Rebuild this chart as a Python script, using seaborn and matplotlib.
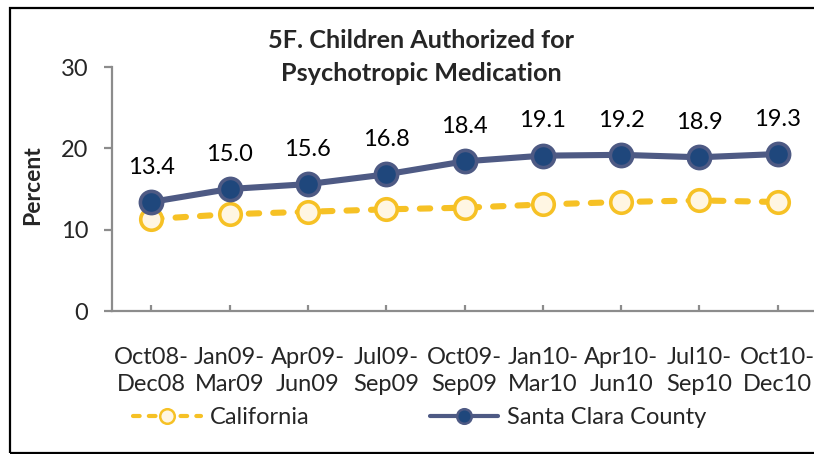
import matplotlib
matplotlib.use("Agg")
import matplotlib.pyplot as plt
from matplotlib.lines import Line2D
from matplotlib.patches import Rectangle
import pandas as pd
import seaborn as sns

periods = ["Oct08-\nDec08", "Jan09-\nMar09", "Apr09-\nJun09", "Jul09-\nSep09",
           "Oct09-\nSep09", "Jan10-\nMar10", "Apr10-\nJun10", "Jul10-\nSep10",
           "Oct10-\nDec10"]
california = [11.3, 11.9, 12.2, 12.5, 12.7, 13.1, 13.4, 13.6, 13.4]
santa_clara = [13.4, 15.0, 15.6, 16.8, 18.4, 19.1, 19.2, 18.9, 19.3]
y_ticks = [0, 10, 20, 30]

sns.set_theme(style="white")
plt.rcParams["font.family"] = ["Lato", "DejaVu Sans"]

W, H = 814, 454
fig = plt.figure(figsize=(W / 100, H / 100), dpi=100)

def px_box(x0, x1, y_top, y_bot):
    return [x0 / W, 1 - y_bot / H, (x1 - x0) / W, (y_bot - y_top) / H]

ax = fig.add_axes(px_box(112, 817, 67, 311))

df = pd.DataFrame({"pos": range(len(periods)),
                   "California": california,
                   "Santa Clara County": santa_clara})

GOLD = "#F6C125"
CREAM = "#FFF6E3"
SLATE = "#4E5A84"
NAVY = "#1F477C"
DASH = (0, (1.7, 2.3))

sns.lineplot(data=df, x="pos", y="California", ax=ax, color=GOLD, lw=4.4,
             linestyle=DASH, dash_capstyle="round",
             marker="o", markersize=15.5, markerfacecolor=CREAM,
             markeredgecolor=GOLD, markeredgewidth=2.6, zorder=3, clip_on=False)
sns.lineplot(data=df, x="pos", y="Santa Clara County", ax=ax, color=SLATE, lw=4.4,
             solid_capstyle="round", marker="o", markersize=16,
             markerfacecolor=NAVY, markeredgecolor=SLATE, markeredgewidth=2.6,
             zorder=4, clip_on=False)

for i, v in enumerate(santa_clara):
    ax.annotate(f"{v:.1f}", (i, v), xytext=(0, 25), textcoords="offset points",
                ha="center", va="center", fontsize=17, color="black")

ax.set_xlim(-0.5, len(periods) - 0.5)
ax.set_ylim(y_ticks[0], y_ticks[-1])
ax.set_yticks(y_ticks)
ax.set_yticklabels([str(t) for t in y_ticks])
ax.set_xticks(range(len(periods)))
ax.set_xticklabels(periods, linespacing=1.35)

AXC = "#8C8C8C"
for s in ["top", "right"]:
    ax.spines[s].set_visible(False)
for s in ["left", "bottom"]:
    ax.spines[s].set_color(AXC)
    ax.spines[s].set_linewidth(1.6)
    ax.spines[s].set_visible(True)

ax.tick_params(axis="y", direction="out", length=6, width=1.6, color=AXC,
               pad=11, labelsize=17, left=True)
ax.tick_params(axis="x", direction="in", length=4.5, width=1.6, color=AXC,
               pad=26, labelsize=17, bottom=True)
ax.set_xlabel("")
ax.set_ylabel("Percent", fontsize=16.5, fontweight="bold", va="center")
ax.yaxis.set_label_coords((33 - 112) / 705, (311 - 185) / 244)
ax.grid(False)

fig.text(421 / W, 1 - 57 / H, "5F. Children Authorized for\nPsychotropic Medication",
         ha="center", va="center", fontsize=18.2, fontweight="bold",
         linespacing=1.55)

handles = [
    Line2D([], [], color=GOLD, lw=3.0, linestyle=(0, (1.6, 2.2)),
           dash_capstyle="round", marker="o", markersize=10.5,
           markerfacecolor=CREAM, markeredgecolor=GOLD, markeredgewidth=1.8),
    Line2D([], [], color=SLATE, lw=3.0, solid_capstyle="round", marker="o",
           markersize=10.5, markerfacecolor=NAVY, markeredgecolor=SLATE,
           markeredgewidth=1.8),
]
fig.legend(handles, ["California", "Santa Clara County"], ncol=2,
           loc="center left", bbox_to_anchor=(133 / W, 1 - 418 / H),
           frameon=False, fontsize=17, handlelength=2.9, handletextpad=0.35,
           columnspacing=5.1, borderpad=0, borderaxespad=0)

fig.patches.append(Rectangle((10 / W, 1.5 / H), 1.2, (452 - 7) / H,
                             transform=fig.transFigure, fill=False,
                             edgecolor="black", lw=1.6))

fig.savefig("out.png", dpi=100)
